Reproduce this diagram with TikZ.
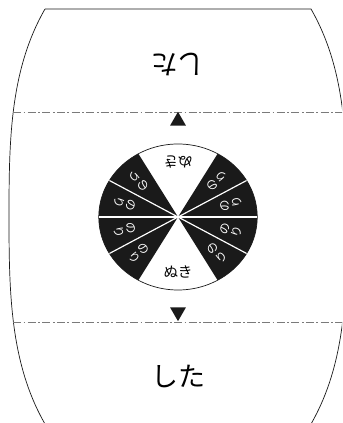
\documentclass[tikz,border=0pt]{standalone}
\usepackage{fontspec}
\usepackage{xcolor}
\usetikzlibrary{shapes.geometric}
\newfontfamily\jpfont{Noto Sans CJK JP}
\definecolor{ink}{HTML}{1A1A1A}
\definecolor{foldgray}{HTML}{7A7A7A}
\tikzset{
  outline/.style={draw=ink,line width=0.6pt},
  foldline/.style={draw=foldgray,line width=0.7pt,
                   dash pattern=on 7pt off 2pt on 1.5pt off 2pt},
  marker/.style={regular polygon,regular polygon sides=3,fill=ink,
                 inner sep=0pt,minimum size=5.5mm},
  bigword/.style={font=\jpfont\fontsize{23}{26}\selectfont,inner sep=0pt},
  slotword/.style={font=\jpfont\fontsize{12.5}{14}\selectfont,inner sep=0pt},
  noriword/.style={font=\jpfont\fontsize{10}{10.5}\selectfont,text=white,
                   align=center,inner sep=0pt},
  spoke/.style={draw=white,line width=1pt}
}
\begin{document}
\begin{tikzpicture}[x=0.3mm,y=0.3mm]
  \useasboundingbox (0,0) rectangle (342,423);
  \clip (0,0) rectangle (342,423);
  \draw[outline] (45,414) -- (311,414)
    .. controls (346,353) and (347,283) .. (347,207)
    .. controls (347,131) and (346,60) .. (311,-1);
  \draw[outline] (45,414) .. controls (10,353) and (9,283) .. (9,207)
    .. controls (9,131) and (10,60) .. (45,-1);
  \draw[foldline] (13,311) -- (345,311);
  \draw[foldline] (13,101) -- (345,101);
  \node[marker] (uparrow) at (178,302) {};
  \node[marker,shape border rotate=180] (downarrow) at (178,111) {};
  \node[bigword,rotate=180] (topword) at (178,358) {した};
  \node[bigword] (bottomword) at (178,47) {した};
  \begin{scope}[shift={(178,206)},xscale=1.085]
    \fill[ink] (0,0) -- (-60:73) arc[start angle=-60,end angle=60,radius=73] -- cycle;
    \fill[ink] (0,0) -- (120:73) arc[start angle=120,end angle=240,radius=73] -- cycle;
    \draw[outline] (0,0) circle[radius=73];
    \foreach \a in {-30,0,30,150,180,210}
      \draw[spoke] (0,0) -- (\a:73);
    \foreach \a [count=\i] in {15,45,135,165,195,225,315,345}
      \node[noriword,rotate=\a+90] (nori\i) at (\a:51) {の\\り};
    \node[slotword] (nukilow) at (0,-55) {ぬき};
    \node[slotword,rotate=180] (nukihigh) at (0,55) {ぬき};
  \end{scope}
\end{tikzpicture}
\end{document}
